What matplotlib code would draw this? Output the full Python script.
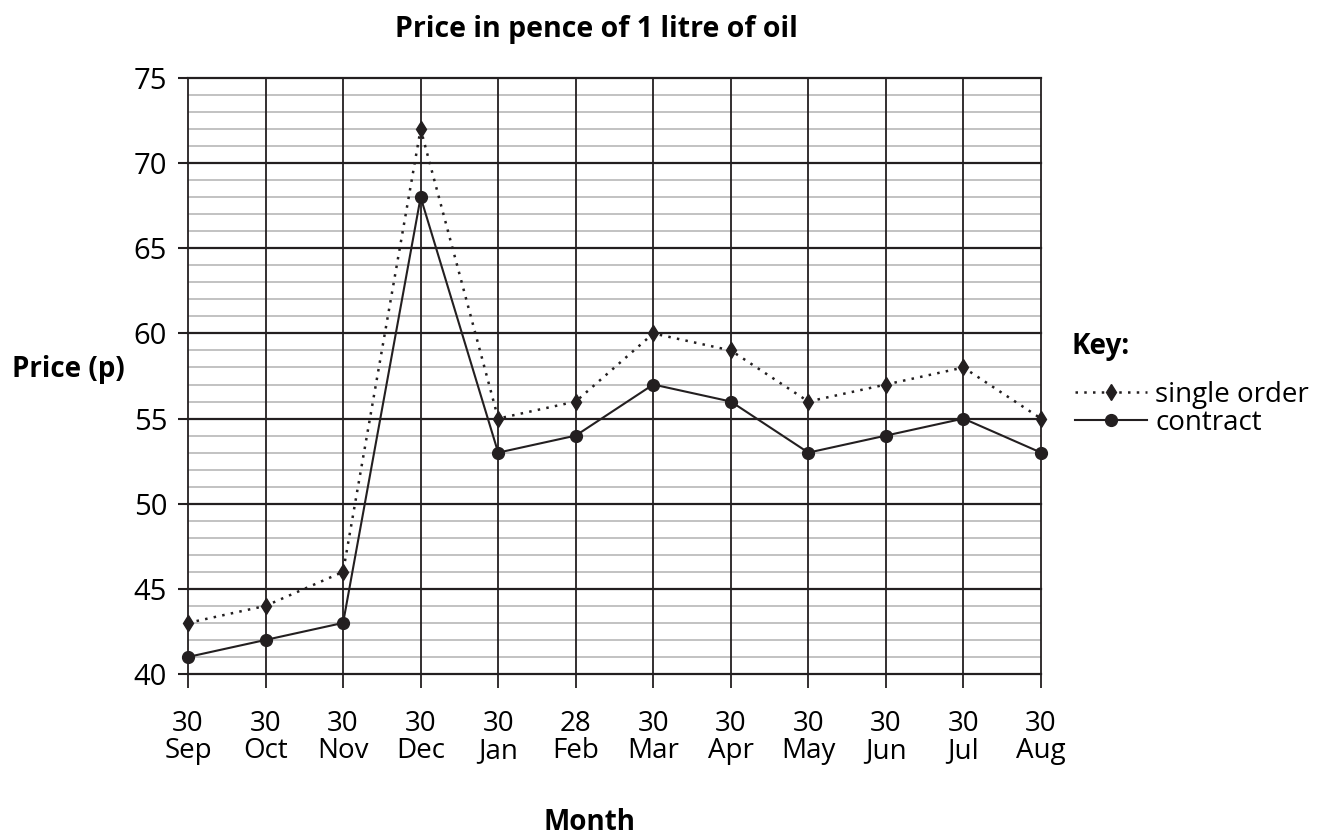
import numpy as np
import matplotlib
matplotlib.use("Agg")
import matplotlib.pyplot as plt
from matplotlib.lines import Line2D

plt.rcParams['font.family'] = ['Open Sans', 'DejaVu Sans']

# data
months = ['30\nSep', '30\nOct', '30\nNov', '30\nDec', '30\nJan', '28\nFeb',
          '30\nMar', '30\nApr', '30\nMay', '30\nJun', '30\nJul', '30\nAug']
single_order = [43, 44, 46, 72, 55, 56, 60, 59, 56, 57, 58, 55]
contract = [41, 42, 43, 68, 53, 54, 57, 56, 53, 54, 55, 53]
y_major = [40, 45, 50, 55, 60, 65, 70, 75]

fig = plt.figure(figsize=(13.17, 8.35), dpi=100)
ax = fig.add_axes([188/1317, 1-674/835, (1041-188)/1317, (674-78)/835])

x = np.arange(len(months))
ax.set_xlim(0, len(months) - 1)
ax.set_ylim(40, 75)

# minor grid (every 1p)
for v in range(40, 76):
    if v % 5:
        ax.axhline(v, color='#b8b8b8', lw=1.2, zorder=1)
for v in y_major:
    ax.axhline(v, color='#231f20', lw=1.6, zorder=2, clip_on=False)
for xi in x:
    ax.vlines(xi, 39.2, 75, color='#231f20', lw=1.3, zorder=2, clip_on=False)

ax.plot(x, single_order, color='#231f20', lw=1.8, ls=(0, (1, 2.5)),
        marker='d', ms=8, zorder=4, clip_on=False)
ax.plot(x, contract, color='#231f20', lw=1.5, ls='-',
        marker='o', ms=8.5, zorder=5, clip_on=False)

for s in ax.spines.values():
    s.set_visible(False)
ax.set_yticks(y_major)
ax.set_xticks(x)
ax.set_xticklabels(months)
ax.tick_params(axis='y', length=7, width=1.5, color='#231f20', labelsize=21, pad=8)
ax.tick_params(axis='x', length=0, labelsize=20, pad=26)
for t in ax.get_xticklabels():
    t.set_linespacing(0.95)

fig.text(596/1317, 1-29/835, 'Price in pence of 1 litre of oil', ha='center', va='center',
         fontsize=20.5, fontweight='bold')
fig.text(590/1317, 1-822/835, 'Month', ha='center', va='center',
         fontsize=20, fontweight='bold')
fig.text(12/1317, 1-370/835, 'Price (p)', ha='left', va='center',
         fontsize=20, fontweight='bold')
fig.text(1072/1317, 1-346/835, 'Key:', ha='left', va='center',
         fontsize=20, fontweight='bold')

handles = [
    Line2D([], [], color='#231f20', lw=1.8, ls=(0, (1, 2.5)), marker='d', ms=8),
    Line2D([], [], color='#231f20', lw=1.5, ls='-', marker='o', ms=8.5),
]
fig.legend(handles, ['single order', 'contract'], loc='upper left',
           bbox_to_anchor=(1061/1317, 1-367/835), frameon=False, fontsize=20,
           handlelength=2.6, handletextpad=0.3, labelspacing=0.0, borderpad=0)

fig.savefig('out.png', dpi=100)
